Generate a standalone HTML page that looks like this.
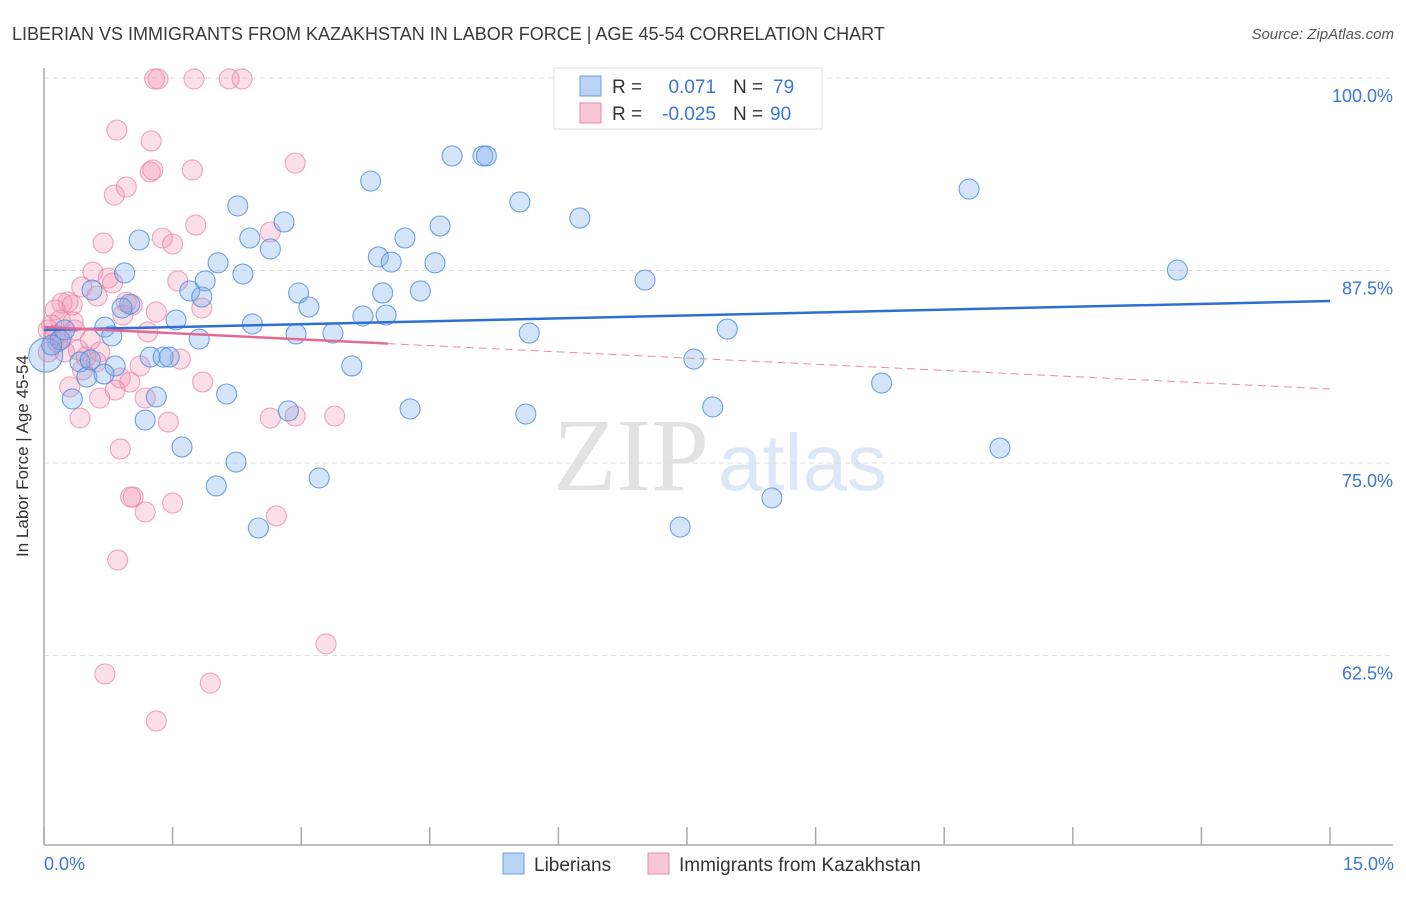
<!DOCTYPE html>
<html><head><meta charset="utf-8">
<style>
body{margin:0;background:#fff;font-family:"Liberation Sans",sans-serif;}
</style></head>
<body>
<svg id="chart" width="1406" height="892" xmlns="http://www.w3.org/2000/svg" font-family="Liberation Sans, sans-serif">
<text x="12" y="40" font-size="18" fill="#3a3a3a">LIBERIAN VS IMMIGRANTS FROM KAZAKHSTAN IN LABOR FORCE | AGE 45-54 CORRELATION CHART</text>
<text x="1394" y="39" font-size="15" fill="#555" text-anchor="end" font-style="italic">Source: ZipAtlas.com</text>
<g>
<text x="553" y="490" font-size="104" fill="#e2e2e2" style="font-family:'Liberation Serif',serif">ZIP</text>
<text x="718" y="490" font-size="80" fill="#dce8f8">atlas</text>
</g>
<g id="grid"></g>
<g id="axes"></g>
<g id="pts"></g>
<g id="trend"></g>
<text transform="translate(28,456) rotate(-90)" font-size="17" fill="#333" text-anchor="middle">In Labor Force | Age 45-54</text>
<g>
<rect x="554" y="68" width="268" height="61" fill="#fff" stroke="#ddd"/>
<rect x="580" y="76" width="21" height="20" fill="#b9d3f5" stroke="#6a9de0"/>
<rect x="580" y="103" width="21" height="20" fill="#f9c6d5" stroke="#e88aa8"/>
<text x="612" y="93" font-size="19" fill="#333">R =</text>
<text x="716" y="93" font-size="19" fill="#3a77d6" text-anchor="end">0.071</text>
<text x="733" y="93" font-size="19" fill="#333">N =</text>
<text x="773" y="93" font-size="19" fill="#3a77d6">79</text>
<text x="612" y="120" font-size="19" fill="#333">R =</text>
<text x="716" y="120" font-size="19" fill="#3a77d6" text-anchor="end">-0.025</text>
<text x="733" y="120" font-size="19" fill="#333">N =</text>
<text x="770" y="120" font-size="19" fill="#3a77d6">90</text>
</g>
<g>
<rect x="503" y="853" width="21" height="21" fill="#b9d3f5" stroke="#6a9de0"/>
<text x="534" y="871" font-size="19" fill="#333">Liberians</text>
<rect x="648" y="853" width="21" height="21" fill="#f9c6d5" stroke="#e88aa8"/>
<text x="679" y="871" font-size="19" fill="#333">Immigrants from Kazakhstan</text>
</g>
<text x="44" y="870" font-size="18" fill="#3a77d6">0.0%</text>
<text x="1394" y="870" font-size="18" fill="#3a77d6" text-anchor="end">15.0%</text>
</svg>
<script>
const blueX=[4.76,5.12,5.16,3.81,10.79,2.26,5.55,6.25,2.80,4.62,1.11,2.40,4.21,2.64,3.90,4.05,4.56,2.03,0.94,2.32,13.22,7.01,1.88,0.56,2.97,4.39,3.95,1.70,1.84,1.00,3.09,0.91,3.72,3.99,1.54,2.43,7.97,0.71,2.94,3.37,5.66,0.79,1.81,0.19,0.02,1.24,1.39,1.46,7.58,0.83,0.42,3.59,0.50,0.70,9.77,2.13,0.33,1.31,7.80,4.27,5.62,2.85,1.18,1.61,11.15,2.24,3.21,2.01,8.49,2.50,7.42,0.09,0.24,0.54];
const blueY=[94.94,94.94,94.94,93.31,92.79,91.69,91.95,90.91,90.65,90.39,89.48,89.61,89.61,88.90,88.38,88.05,88.0,88.0,87.34,87.27,87.53,86.88,86.82,86.23,86.04,86.17,86.04,86.17,85.78,85.32,85.13,85.06,84.55,84.61,84.29,84.03,83.70,83.83,83.38,83.44,83.44,83.25,83.05,82.99,82.01,81.88,81.88,81.88,81.75,81.30,81.56,81.30,80.58,80.78,80.19,79.48,79.16,79.29,78.64,78.51,78.18,78.38,77.79,76.04,75.97,75.06,74.03,73.51,72.73,70.78,70.84,82.66,83.64,81.69];
const pinkX=[1.29,1.33,1.75,2.16,2.31,0.85,1.25,2.93,1.24,1.27,1.73,0.96,0.82,1.77,2.64,0.69,1.38,1.50,0.57,0.75,1.56,0.44,0.80,0.62,0.28,0.21,0.33,0.13,1.84,1.03,1.31,0.96,0.92,0.19,0.09,0.34,0.05,0.13,0.21,1.21,0.54,0.40,0.05,0.24,0.65,0.49,0.61,1.59,1.12,0.45,0.89,1.00,0.30,1.85,0.83,0.65,1.18,0.42,1.45,2.64,2.93,3.39,0.89,1.04,1.01,1.50,1.18,2.71,0.86,3.29,0.71,1.94,1.31,0.36,0.16];
const pinkY=[99.94,99.94,99.94,99.94,99.94,96.62,95.91,94.48,93.90,94.03,94.03,92.92,92.40,90.45,90.0,89.29,89.61,89.22,87.4,87.01,86.82,86.43,86.69,85.84,85.45,85.39,85.26,84.94,85.06,85.26,84.81,85.45,84.61,84.29,83.96,84.16,83.64,83.31,83.12,83.51,82.99,82.34,82.21,82.21,82.21,81.88,81.56,81.75,81.30,81.04,80.52,80.26,79.94,80.26,79.74,79.22,79.22,77.92,77.66,77.92,78.05,78.05,75.91,72.79,72.79,72.40,71.82,71.56,68.70,63.25,61.30,60.71,58.25,83.64,82.86];
const yTicks=[100,87.5,75,62.5];
const yTickLabels=["100.0%","87.5%","75.0%","62.5%"];
const blueTrend=[83.64,85.52];
const pinkTrend=[83.83,79.81];
const pinkSolidEnd=4.01;

const NS="http://www.w3.org/2000/svg";
const X=v=>44+v/15*1286;
const Y=v=>78+(100-v)/12.5*192.5;
function mk(tag,attrs,parent){const e=document.createElementNS(NS,tag);for(const k in attrs)e.setAttribute(k,attrs[k]);parent.appendChild(e);return e;}
const grid=document.getElementById('grid'),axes=document.getElementById('axes'),pts=document.getElementById('pts'),trend=document.getElementById('trend');
yTicks.forEach((t,i)=>{
  const l=mk('line',{x1:44,x2:1393,y1:Y(t),y2:Y(t),stroke:'#ddd','stroke-dasharray':'5,4'},grid);
  
  
  const tx=mk('text',{x:1393,y:Y(t)+24,'font-size':18,fill:'#3a77d6','text-anchor':'end'},grid);
  tx.textContent=yTickLabels[i];
  
  
});
const ya=mk('line',{x1:44,x2:44,y1:68,y2:845,stroke:'#aaa','stroke-width':1.5},axes);


const xa=mk('line',{x1:44,x2:1393,y1:845,y2:845,stroke:'#aaa','stroke-width':1.5},axes);


for(let i=0;i<=10;i++){
  const t=mk('line',{x1:X(i*1.5),x2:X(i*1.5),y1:827,y2:845,stroke:'#aaa','stroke-width':1.5},axes);
  
  
}
function dots(xs,ys,fill,stroke,name){
  xs.forEach((x,i)=>{
    const big=(name==='liberian-point'&&i===44);
    const c=mk('circle',{cx:X(x),cy:Y(ys[i]),r:big?17:10,fill:fill,stroke:stroke,'stroke-width':1.1},pts);
    
    
  });
}
dots(pinkX,pinkY,'rgba(243,150,180,0.3)','rgba(232,130,165,0.7)','kazakhstan-point');
dots(blueX,blueY,'rgba(120,170,235,0.32)','rgba(80,140,220,0.8)','liberian-point');
const bl=mk('line',{x1:X(0),y1:Y(blueTrend[0]),x2:X(15),y2:Y(blueTrend[1]),stroke:'#2f6fd3','stroke-width':2.5},trend);


const pAt=x=>pinkTrend[0]+(pinkTrend[1]-pinkTrend[0])*x/15;
const ps=mk('line',{x1:X(0),y1:Y(pinkTrend[0]),x2:X(pinkSolidEnd),y2:Y(pAt(pinkSolidEnd)),stroke:'#e56a93','stroke-width':2.5},trend);


const pd=mk('line',{x1:X(pinkSolidEnd),y1:Y(pAt(pinkSolidEnd)),x2:X(15),y2:Y(pinkTrend[1]),stroke:'#e88aa8','stroke-width':1,'stroke-dasharray':'8,5'},trend);


</script>
</body></html>
